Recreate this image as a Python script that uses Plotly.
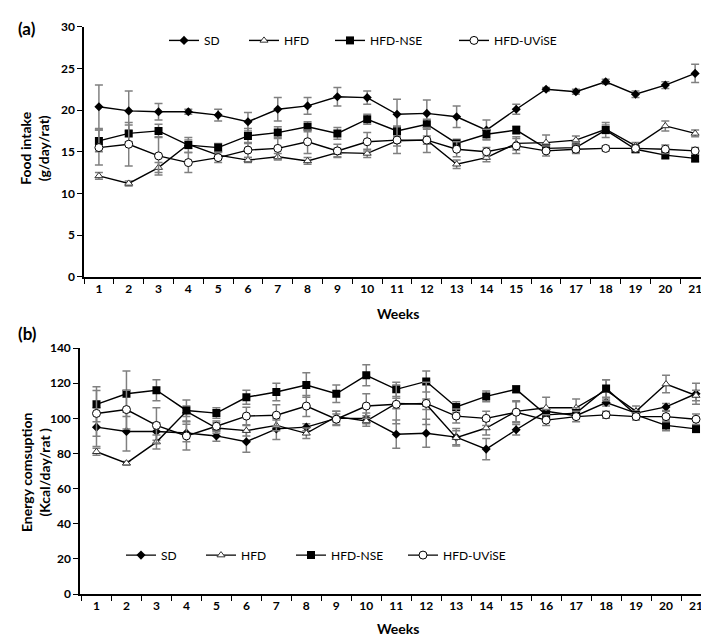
import plotly.graph_objects as go

weeks = [str(w) for w in range(1, 22)]
series_names = ["SD", "HFD", "HFD-NSE", "HFD-UViSE"]

# (a) Food intake (g/day/rat)
food_SD = [20.4, 19.9, 19.8, 19.8, 19.4, 18.6, 20.1, 20.5, 21.6, 21.5, 19.5, 19.6, 19.2, 17.6, 20.1, 22.5, 22.2, 23.4, 21.9, 23.0, 24.4]
food_HFD = [12.1, 11.2, 13.1, 15.9, 14.6, 14.0, 14.4, 13.9, 14.9, 14.8, 16.3, 16.4, 13.5, 14.3, 16.0, 16.1, 16.4, 17.7, 15.7, 18.1, 17.2]
food_NSE = [16.3, 17.2, 17.5, 15.8, 15.5, 16.9, 17.3, 18.0, 17.2, 18.9, 17.5, 18.3, 16.0, 17.1, 17.6, 15.4, 15.5, 17.6, 15.3, 14.6, 14.2]
food_UViSE = [15.5, 15.9, 14.5, 13.7, 14.3, 15.2, 15.4, 16.2, 15.1, 16.2, 16.4, 16.4, 15.3, 15.0, 15.7, 15.1, 15.3, 15.4, 15.4, 15.3, 15.1]

food_SD_err = [2.6, 2.4, 1.0, 0.3, 0.7, 1.1, 1.4, 1.0, 1.1, 0.8, 1.8, 1.6, 1.3, 1.2, 0.6, 0.2, 0.3, 0.3, 0.4, 0.4, 1.1]
food_HFD_err = [0.4, 0.3, 0.6, 0.5, 0.4, 0.3, 0.4, 0.4, 0.5, 0.5, 0.6, 0.5, 0.5, 0.5, 0.8, 0.9, 0.5, 0.5, 0.4, 0.6, 0.4]
food_NSE_err = [1.3, 1.0, 0.8, 0.9, 0.5, 0.9, 0.7, 0.6, 0.7, 0.6, 0.6, 0.6, 0.5, 0.6, 0.5, 0.5, 0.6, 0.9, 0.4, 0.5, 0.4]
food_UViSE_err = [2.1, 2.6, 2.3, 1.2, 0.6, 0.9, 1.3, 1.4, 0.8, 1.1, 1.6, 1.5, 0.9, 0.5, 0.9, 0.6, 0.5, 0.3, 0.3, 0.5, 0.4]

# (b) Energy consumption (Kcal/day/rat)
energy_SD = [95, 92.5, 92.5, 91.7, 90, 86.7, 94, 95, 100, 100, 91, 91.5, 89.3, 82.5, 93.5, 104, 101.5, 109, 103, 106.5, 114]
energy_HFD = [81, 74.5, 86.5, 104, 94.5, 93, 96, 91.5, 101, 98.5, 108.5, 108, 89, 94.5, 104, 106, 106, 116, 104, 119.5, 113]
energy_NSE = [108, 114, 116, 104.5, 103, 112, 115, 119, 114, 124.5, 116.5, 121, 106.5, 112.5, 116.5, 102, 103, 117, 102, 96, 94]
energy_UViSE = [102.8, 105, 96, 90, 95.5, 101.3, 101.8, 107, 99.5, 107, 108, 108.5, 101.3, 100, 103.5, 99, 101, 102, 101, 101, 99.5]

energy_SD_err = [11, 11, 5, 5, 3, 6, 6, 2, 4, 3, 8, 8, 5, 6, 3, 1, 1, 2, 2, 2, 6]
energy_HFD_err = [2, 1, 4, 3, 3, 3, 3, 3, 3, 3, 3, 3, 4, 4, 6, 6, 5, 6, 3, 5, 3]
energy_NSE_err = [10, 13, 6, 6, 3, 4, 5, 7, 5, 6, 4, 6, 3, 3, 2, 3, 3, 5, 2, 3, 2]
energy_UViSE_err = [13, 11, 10, 8, 3, 5, 6, 6, 3, 7, 11, 12, 4, 4, 6, 3, 3, 2, 2, 3, 3]

W, H = 709, 641
FONT = "Lato"

markers = [
    dict(symbol="diamond", size=7, color="black"),
    dict(symbol="triangle-up", size=7, color="white", line=dict(color="#333333", width=1)),
    dict(symbol="square", size=8, color="black"),
    dict(symbol="circle", size=8, color="white", line=dict(color="black", width=1)),
]

fig = go.Figure()

top_vals = [food_SD, food_HFD, food_NSE, food_UViSE]
top_errs = [food_SD_err, food_HFD_err, food_NSE_err, food_UViSE_err]
bot_vals = [energy_SD, energy_HFD, energy_NSE, energy_UViSE]
bot_errs = [energy_SD_err, energy_HFD_err, energy_NSE_err, energy_UViSE_err]

for i, name in enumerate(series_names):
    fig.add_trace(go.Scatter(
        x=weeks, y=top_vals[i], name=name, mode="lines+markers",
        line=dict(color="black", width=1.4), marker=markers[i],
        error_y=dict(type="data", array=top_errs[i], color="#808080", thickness=1.5, width=4),
        xaxis="x", yaxis="y", legend="legend" if i == 0 else f"legend{i+1}",
    ))
for i, name in enumerate(series_names):
    fig.add_trace(go.Scatter(
        x=weeks, y=bot_vals[i], name=name, mode="lines+markers",
        line=dict(color="black", width=1.4), marker=markers[i],
        error_y=dict(type="data", array=bot_errs[i], color="#808080", thickness=1.5, width=4),
        xaxis="x2", yaxis="y2", legend=f"legend{i+5}",
    ))

def py(y_px):
    return 1 - y_px / H

def px(x_px):
    return x_px / W

tickfont = dict(family=FONT, size=12, color="black", weight="bold")
xcommon = dict(type="category", categoryarray=weeks, tickson="boundaries", ticks="outside",
               ticklen=5, tickcolor="black", showline=True, linecolor="black", linewidth=1.5,
               showgrid=False, zeroline=False, tickfont=tickfont)
ycommon = dict(ticks="outside", ticklen=5, tickcolor="black", showline=True, linecolor="black",
               linewidth=1.5, showgrid=False, zeroline=False, tickfont=tickfont)

legend_common = dict(orientation="h", xanchor="left", yanchor="middle", bgcolor="rgba(0,0,0,0)",
                     borderwidth=0, font=dict(family=FONT, size=12, color="black"))
top_leg_x = [156, 236, 322, 446]
bot_leg_x = [113, 193, 283, 395]
legends = {}
for i in range(4):
    key = "legend" if i == 0 else f"legend{i+1}"
    legends[key] = dict(legend_common, x=px(top_leg_x[i]), y=py(25))
for i in range(4):
    legends[f"legend{i+5}"] = dict(legend_common, x=px(bot_leg_x[i]), y=py(552))

fig.update_layout(
    width=W, height=H, margin=dict(l=0, r=0, t=0, b=0),
    paper_bgcolor="white", plot_bgcolor="white", showlegend=True,
    xaxis=dict(xcommon, domain=[px(76), px(708)], range=[-0.5, 20.7], anchor="y"),
    yaxis=dict(ycommon, domain=[py(267), py(11)], range=[0, 30], dtick=5, anchor="x"),
    xaxis2=dict(xcommon, domain=[px(72), px(709)], range=[-0.55, 20.7], anchor="y2"),
    yaxis2=dict(ycommon, domain=[py(592), py(340)], range=[0, 140], dtick=20, anchor="x2"),
    **legends,
)

ann_font = dict(family=FONT, size=14, color="black", weight="bold")
annotations = [
    dict(text="(a)", x=px(19), y=py(13), font=dict(family=FONT, size=17, color="black", weight="bold")),
    dict(text="(b)", x=px(19), y=py(325), font=dict(family=FONT, size=17, color="black", weight="bold")),
    dict(text="Food intake<br>(g/day/rat)", x=px(27), y=py(135), textangle=-90, font=ann_font),
    dict(text="Energy comsuption<br>(Kcal/day/rat )", x=px(27), y=py(467), textangle=-90, font=ann_font),
    dict(text="Weeks", x=px(390), y=py(305), font=ann_font),
    dict(text="Weeks", x=px(390), y=py(627), font=ann_font),
]
for a in annotations:
    a.update(xref="paper", yref="paper", showarrow=False, xanchor="center", yanchor="middle")
fig.update_layout(annotations=annotations)

fig.write_html("out.html")
